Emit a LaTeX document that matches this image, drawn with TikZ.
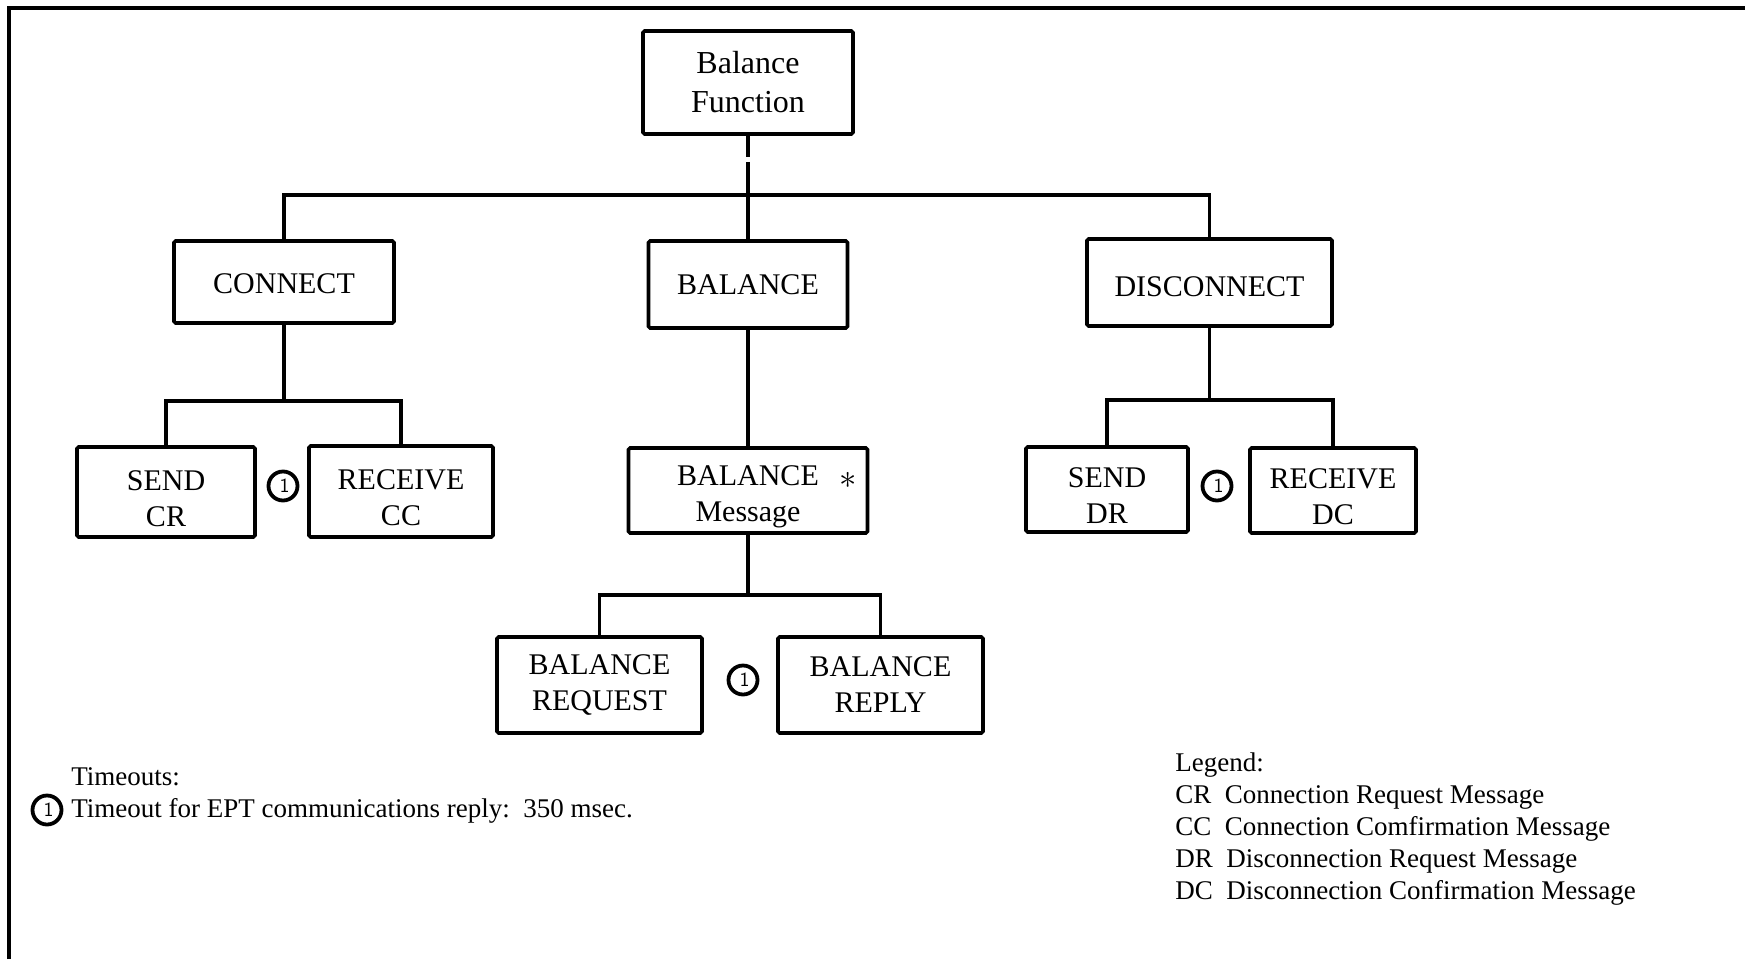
\documentclass[tikz,border=0pt]{standalone}
\usepackage{fontspec}
\setmainfont{Liberation Serif}
\tikzset{
  blk/.style={draw, line width=1.8pt, rounded corners=0.8pt, inner sep=0pt,
              align=center, font=\fontsize{15}{18}\selectfont},
  wire/.style={line width=1.6pt},
  tmark/.style={circle, draw, line width=1.9pt, inner sep=0pt, minimum size=14.5pt,
                font=\fontsize{10}{10}\sffamily},
  note/.style={anchor=base west, inner sep=0pt, font=\fontsize{13.5}{16}\selectfont},
}
% circled timeout number, digit set low and to the right
\newcommand{\tmone}{\raisebox{-2.4pt}{\hspace{1.6pt}1}}
% strut that sets the first line of a two-line label a little lower
\newcommand{\lowline}{\rule{0pt}{16.5pt}}
\begin{document}
\begin{tikzpicture}[x=0.5pt, y=-0.5pt]
\useasboundingbox (0,0) rectangle (1745,959);
% frame
\draw[line width=2pt] (9,959) -- (9,7.5) -- (1745,7.5);

% root
\node[blk, minimum width=105pt, minimum height=51.5pt,
      font=\fontsize{16}{19.5}\selectfont] (top) at (748,82.5) {Balance\\Function};

% first level
\node[blk, minimum width=110pt, minimum height=41pt] (connect) at (284,282) {\rule{0pt}{12pt}CONNECT};
\node[blk, minimum width=99.5pt, minimum height=43.5pt] (balance) at (748,284.5) {BALANCE};
\node[blk, minimum width=122.5pt, minimum height=43.5pt] (disconnect) at (1209.5,282.5) {\rule{0pt}{14pt}DISCONNECT};

% second level
\node[blk, minimum width=89pt, minimum height=45pt] (sendcr) at (166,492) {\lowline SEND\\CR};
\node[blk, minimum width=92pt, minimum height=45.5pt] (recvcc) at (401,491.5) {\lowline RECEIVE\\CC};
\node[blk, minimum width=119.5pt, minimum height=42.5pt] (balmsg) at (748,490.5) {\lowline BALANCE\\Message};
\node[blk, minimum width=81pt, minimum height=42.5pt] (senddr) at (1107,489.5) {\lowline SEND\\DR};
\node[blk, minimum width=83pt, minimum height=42.5pt] (recvdc) at (1333,490.5) {\lowline RECEIVE\\DC};

% third level
\node[blk, minimum width=102.5pt, minimum height=48pt] (balreq) at (599.5,685) {BALANCE\\REQUEST};
\node[blk, minimum width=102.5pt, minimum height=48pt] (balrep) at (880.5,685) {BALANCE\\REPLY};

\node[inner sep=0pt, font=\fontsize{19}{20}\selectfont] (star) at (848,480) {$\ast$};

% junction points
\coordinate (jt) at (748,195);
\coordinate (jc) at (284,401);
\coordinate (jb) at (748,595);
\coordinate (jd) at (1209.5,400);

% connectors
\draw[wire, dash pattern=on 10.5pt off 2.5pt on 200pt] (top.south) -- (balance.north);
\draw[wire] (connect.north) |- (jt) -| (disconnect.north);
\draw[wire] (connect.south) -- (jc);
\draw[wire] (sendcr.north) |- (jc) -| (recvcc.north);
\draw[wire] (balance.south) -- (balmsg.north);
\draw[wire] (balmsg.south) -- (jb);
\draw[wire] (balreq.north) |- (jb) -| (balrep.north);
\draw[wire] (disconnect.south) -- (jd);
\draw[wire] (senddr.north) |- (jd) -| (recvdc.north);

% timeout marks
\node[tmark] (t1) at (283,486) {\tmone};
\node[tmark] (t2) at (743,680) {\tmone};
\node[tmark] (t3) at (1217,486) {\tmone};

% timeouts note
\node[note] (tohead) at (71,785) {Timeouts:};
\node[note] (toline) at (71,817) {Timeout for EPT communications reply:\ \ 350 msec.};
\node[tmark] (t4) at (47,810) {\tmone};

% legend
\node[note] (lg0) at (1175,771) {Legend:};
\node[note] (lg1) at (1175,803) {CR\ \ Connection Request Message};
\node[note] (lg2) at (1175,835) {CC\ \ Connection Comfirmation Message};
\node[note] (lg3) at (1175,867) {DR\ \ Disconnection Request Message};
\node[note] (lg4) at (1175,899) {DC\ \ Disconnection Confirmation Message};
\end{tikzpicture}
\end{document}
